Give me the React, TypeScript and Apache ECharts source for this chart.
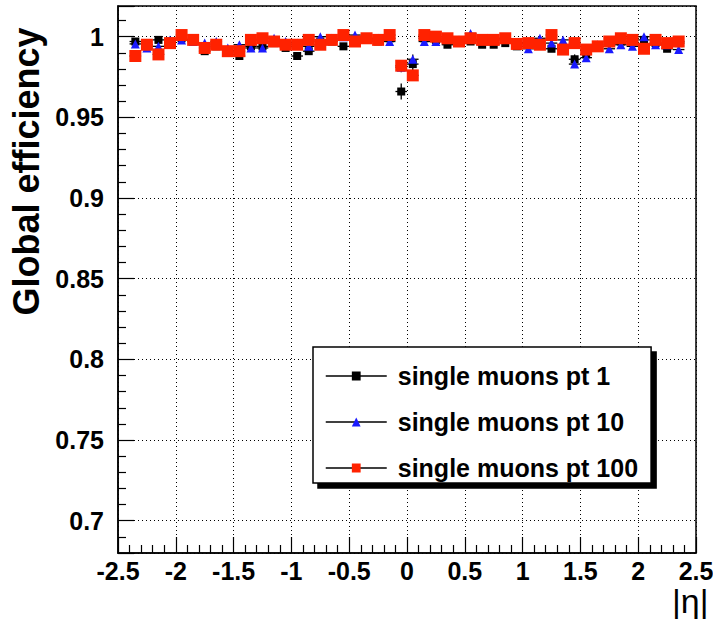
import React, { useEffect, useRef } from 'react';
import * as echarts from 'echarts';

const FONT = '"Liberation Sans", Arial, Helvetica, sans-serif';

// Bin centres in |eta|
const etaCenters = [
  -2.35, -2.25, -2.15, -2.05, -1.95, -1.85, -1.75, -1.65, -1.55, -1.45, -1.35, -1.25,
  -1.15, -1.05, -0.95, -0.85, -0.75, -0.65, -0.55, -0.45, -0.35, -0.25, -0.15, -0.05,
  0.05, 0.15, 0.25, 0.35, 0.45, 0.55, 0.65, 0.75, 0.85, 0.95, 1.05, 1.15,
  1.25, 1.35, 1.45, 1.55, 1.65, 1.75, 1.85, 1.95, 2.05, 2.15, 2.25, 2.35,
];
const binHalfWidth = 0.05;

// single muons pt 1
const effPt1 = [
  0.997, 0.994, 0.998, 0.997, 0.999, 0.998, 0.991, 0.994, 0.990, 0.988, 0.994, 0.994,
  0.996, 0.993, 0.988, 0.991, 0.997, 0.997, 0.994, 0.998, 0.998, 0.997, 0.999, 0.966,
  0.983, 0.999, 0.998, 0.995, 0.997, 0.997, 0.995, 0.995, 0.996, 0.994, 0.996, 0.995,
  0.9925, 0.993, 0.986, 0.989, 0.994, 0.996, 0.997, 0.997, 0.998, 0.996, 0.9925, 0.996,
];
const errPt1 = [
  0.002, 0.002, 0.002, 0.002, 0.002, 0.002, 0.002, 0.002, 0.002, 0.002, 0.002, 0.002,
  0.002, 0.002, 0.002, 0.002, 0.002, 0.002, 0.002, 0.002, 0.002, 0.002, 0.002, 0.005,
  0.004, 0.002, 0.002, 0.002, 0.002, 0.002, 0.002, 0.002, 0.002, 0.002, 0.002, 0.002,
  0.002, 0.002, 0.003, 0.002, 0.002, 0.002, 0.002, 0.002, 0.002, 0.002, 0.002, 0.002,
];

// single muons pt 10
const effPt10 = [
  0.9955, 0.993, 0.994, 0.998, 0.998, 0.997, 0.996, 0.997, 0.993, 0.995, 0.993, 0.993,
  0.999, 0.997, 0.996, 0.994, 1.000, 0.999, 1.000, 1.001, 0.999, 0.999, 0.997, 0.981,
  0.986, 0.997, 0.997, 0.999, 0.998, 1.002, 0.998, 0.998, 0.999, 0.996, 0.9925, 0.999,
  0.996, 0.998, 0.983, 0.987, 0.995, 0.9925, 0.995, 0.994, 1.000, 0.995, 0.995, 0.992,
];
const errPt10 = [
  0.001, 0.001, 0.001, 0.001, 0.001, 0.001, 0.001, 0.001, 0.001, 0.001, 0.001, 0.001,
  0.001, 0.001, 0.001, 0.001, 0.001, 0.001, 0.001, 0.001, 0.001, 0.001, 0.001, 0.003,
  0.003, 0.001, 0.001, 0.001, 0.001, 0.001, 0.001, 0.001, 0.001, 0.001, 0.001, 0.001,
  0.001, 0.001, 0.002, 0.002, 0.001, 0.001, 0.001, 0.001, 0.001, 0.001, 0.001, 0.001,
];

// single muons pt 100
const effPt100 = [
  0.988, 0.995, 0.989, 0.996, 1.001, 0.998, 0.993, 0.995, 0.991, 0.991, 0.998, 0.999,
  0.997, 0.995, 0.995, 0.998, 0.995, 0.998, 1.001, 0.997, 0.999, 0.998, 1.001, 0.982,
  0.976, 1.001, 1.000, 0.999, 0.997, 0.999, 0.998, 0.998, 0.999, 0.9955, 0.996, 0.995,
  1.001, 0.992, 0.996, 0.992, 0.994, 0.997, 0.999, 0.998, 0.9925, 0.998, 0.996, 0.997,
];
const errPt100 = [
  0.001, 0.001, 0.001, 0.001, 0.001, 0.001, 0.001, 0.001, 0.001, 0.001, 0.001, 0.001,
  0.001, 0.001, 0.001, 0.001, 0.001, 0.001, 0.001, 0.001, 0.001, 0.001, 0.001, 0.002,
  0.002, 0.001, 0.001, 0.001, 0.001, 0.001, 0.001, 0.001, 0.001, 0.001, 0.001, 0.001,
  0.001, 0.001, 0.001, 0.001, 0.001, 0.001, 0.001, 0.001, 0.001, 0.001, 0.001, 0.001,
];

const seriesNames = ['single muons pt 1', 'single muons pt 10', 'single muons pt 100'];
const seriesColors = ['#000000', '#1a1aff', '#ff2200'];
const seriesSymbols = ['rect', 'triangle', 'rect'];
const seriesSymbolSizes = [8, 9, 12];

const xTickMin = -2.5;
const xTickMax = 2.5;
const xTickStep = 0.5;
const yMin = 0.68;
const yMax = 1.019;

function errorBarSeries(name: string, eff: number[], err: number[]) {
  return {
    type: 'custom',
    name,
    silent: true,
    clip: true,
    data: etaCenters.map((x, i) => [x, eff[i], err[i]]),
    encode: { x: 0, y: 1 },
    renderItem: (params: any, api: any) => {
      const x = api.value(0);
      const y = api.value(1);
      const e = api.value(2);
      const l = api.coord([x - binHalfWidth, y]);
      const r = api.coord([x + binHalfWidth, y]);
      const t = api.coord([x, y + e]);
      const b = api.coord([x, y - e]);
      const st = { stroke: '#000', lineWidth: 1.3 };
      return {
        type: 'group',
        children: [
          { type: 'line', shape: { x1: l[0], y1: l[1], x2: r[0], y2: r[1] }, style: st },
          { type: 'line', shape: { x1: t[0], y1: t[1], x2: b[0], y2: b[1] }, style: st },
        ],
      };
    },
  };
}

function pointSeries(i: number, eff: number[]) {
  return {
    type: 'line',
    name: seriesNames[i],
    data: etaCenters.map((x, k) => [x, eff[k]]),
    symbol: seriesSymbols[i],
    symbolSize: seriesSymbolSizes[i],
    showSymbol: true,
    itemStyle: { color: seriesColors[i], borderWidth: 0 },
    lineStyle: { width: 0, opacity: 0 },
    emphasis: { disabled: true },
    silent: true,
  };
}

export default function App() {
  const ref = useRef<HTMLDivElement>(null);
  useEffect(() => {
    if (!ref.current) return;
    const chart = echarts.init(ref.current, undefined, { renderer: 'svg' });
    const axisFont = { fontSize: 25, fontWeight: 'bold', fontFamily: FONT, color: '#000' };
    const tickStyle = { show: true, inside: true, length: 16, lineStyle: { color: '#000', width: 1.2 } };
    const minorStyle = { show: true, splitNumber: 5, length: 8, lineStyle: { color: '#000', width: 1.2 } };
    const gridLineStyle = { show: true, lineStyle: { color: '#000', type: [1, 3], width: 1 } };
    chart.setOption({
      animation: false,
      backgroundColor: '#ffffff',
      grid: {
        left: 118,
        right: 17,
        top: 6,
        bottom: 66,
        outerBoundsMode: 'none',
        containLabel: false,
        show: true,
        borderColor: '#000',
        borderWidth: 1.5,
        backgroundColor: 'transparent',
      },
      xAxis: {
        type: 'value',
        min: xTickMin,
        max: xTickMax,
        interval: xTickStep,
        axisLine: { show: true, onZero: false, lineStyle: { color: '#000', width: 1.5 } },
        axisTick: tickStyle,
        minorTick: minorStyle,
        splitLine: gridLineStyle,
        axisLabel: { ...axisFont, margin: 5, formatter: (v: number) => String(+v.toFixed(2)) },
        name: '|η|',
        nameLocation: 'end',
        nameGap: -24,
        nameTextStyle: {
          fontSize: 34,
          fontFamily: FONT,
          color: '#000',
          verticalAlign: 'top',
          padding: [31, 0, 0, 0],
        },
      },
      yAxis: {
        type: 'value',
        min: yMin,
        max: yMax,
        splitNumber: 7,
        axisLine: { show: true, onZero: false, lineStyle: { color: '#000', width: 1.5 } },
        axisTick: tickStyle,
        minorTick: minorStyle,
        splitLine: gridLineStyle,
        axisLabel: {
          ...axisFont,
          margin: 14,
          showMinLabel: false,
          showMaxLabel: false,
          formatter: (v: number) => String(+v.toFixed(3)),
        },
        name: 'Global efficiency',
        nameLocation: 'middle',
        nameRotate: 90,
        nameGap: 73,
        nameTextStyle: {
          fontSize: 36,
          fontWeight: 'bold',
          fontFamily: FONT,
          color: '#000',
          padding: [0, 0, 0, 216],
        },
      },
      legend: {
        show: true,
        orient: 'vertical',
        left: 313,
        top: 347,
        itemWidth: 61,
        itemHeight: 11,
        itemGap: 20,
        padding: [16, 13, 2, 12],
        backgroundColor: '#ffffff',
        borderColor: '#000',
        borderWidth: 1.5,
        borderRadius: 0,
        shadowColor: '#000',
        shadowBlur: 0,
        shadowOffsetX: 5,
        shadowOffsetY: 5,
        selectedMode: false,
        textStyle: {
          fontSize: 25,
          fontWeight: 'bold',
          fontFamily: FONT,
          color: '#000',
          lineHeight: 26,
          padding: [0, 0, 0, 6],
        },
        lineStyle: { color: '#000', width: 1.5, opacity: 1 },
        data: seriesNames,
      },
      series: [
        errorBarSeries('err pt 1', effPt1, errPt1),
        pointSeries(0, effPt1),
        errorBarSeries('err pt 10', effPt10, errPt10),
        pointSeries(1, effPt10),
        errorBarSeries('err pt 100', effPt100, errPt100),
        pointSeries(2, effPt100),
      ],
    });
    return () => chart.dispose();
  }, []);
  return (
    <div
      ref={ref}
      style={{ position: 'absolute', left: 0, top: 0, width: 713, height: 619, background: '#fff' }}
    />
  );
}
